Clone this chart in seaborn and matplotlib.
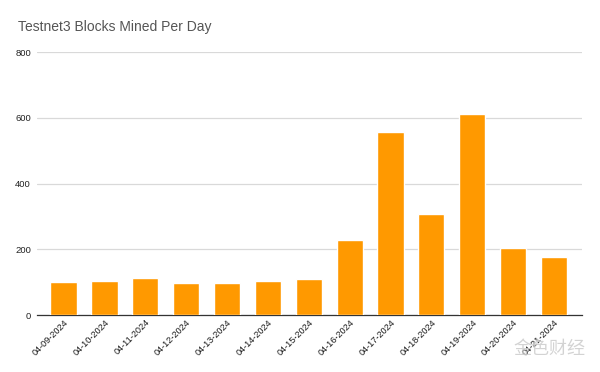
import numpy as np
import pandas as pd
import matplotlib
matplotlib.use("Agg")
import matplotlib.pyplot as plt
import seaborn as sns

# --- data ---
dates = ["04-09-2024", "04-10-2024", "04-11-2024", "04-12-2024", "04-13-2024",
         "04-14-2024", "04-15-2024", "04-16-2024", "04-17-2024", "04-18-2024",
         "04-19-2024", "04-20-2024", "04-21-2024"]
blocks = [101, 105, 113, 98, 98, 104, 111, 228, 558, 306, 611, 205, 177]
y_ticks = [0, 200, 400, 600, 800]

df = pd.DataFrame({"date": dates, "blocks": blocks})

sns.set_style("white")
plt.rcParams["font.family"] = ["Liberation Sans", "Noto Sans CJK SC", "DejaVu Sans"]

fig = plt.figure(figsize=(6, 3.72), dpi=100)
ax = fig.add_axes([0.061, 0.153, 0.9085, 0.707])

sns.barplot(data=df, x="date", y="blocks", color="#ff9900", saturation=1,
            width=0.64, ax=ax, zorder=3)

ax.set_ylim(0, 800)
ax.set_yticks(y_ticks)
ax.set_yticklabels([str(v) for v in y_ticks], fontsize=6.8, color="#222222")
ax.yaxis.grid(True, color="#d9d9d9", linewidth=0.9, zorder=0)
ax.set_axisbelow(True)
ax.tick_params(axis="y", length=0, pad=4)
ax.tick_params(axis="x", length=0, pad=2)
ax.set_xlim(-0.66, len(dates) - 0.32)

for lbl in ax.get_xticklabels():
    lbl.set_rotation(45)
    lbl.set_ha("right")
    lbl.set_rotation_mode("anchor")
    lbl.set_fontsize(6.6)
    lbl.set_color("#1a1a1a")

ax.set_xlabel("")
ax.set_ylabel("")
for s in ["top", "right", "left"]:
    ax.spines[s].set_visible(False)
ax.spines["bottom"].set_color("#333333")
ax.spines["bottom"].set_linewidth(0.9)

fig.text(0.03, 0.927, "Testnet3 Blocks Mined Per Day", fontsize=10,
         color="#555555", ha="left", va="center")

# watermark
fig.text(0.915, 0.062, "金色财经", fontsize=13, color="#cccccc", alpha=0.85,
         ha="center", va="center", family=["Noto Sans CJK SC", "DejaVu Sans"])

fig.savefig("out.png", dpi=100)
